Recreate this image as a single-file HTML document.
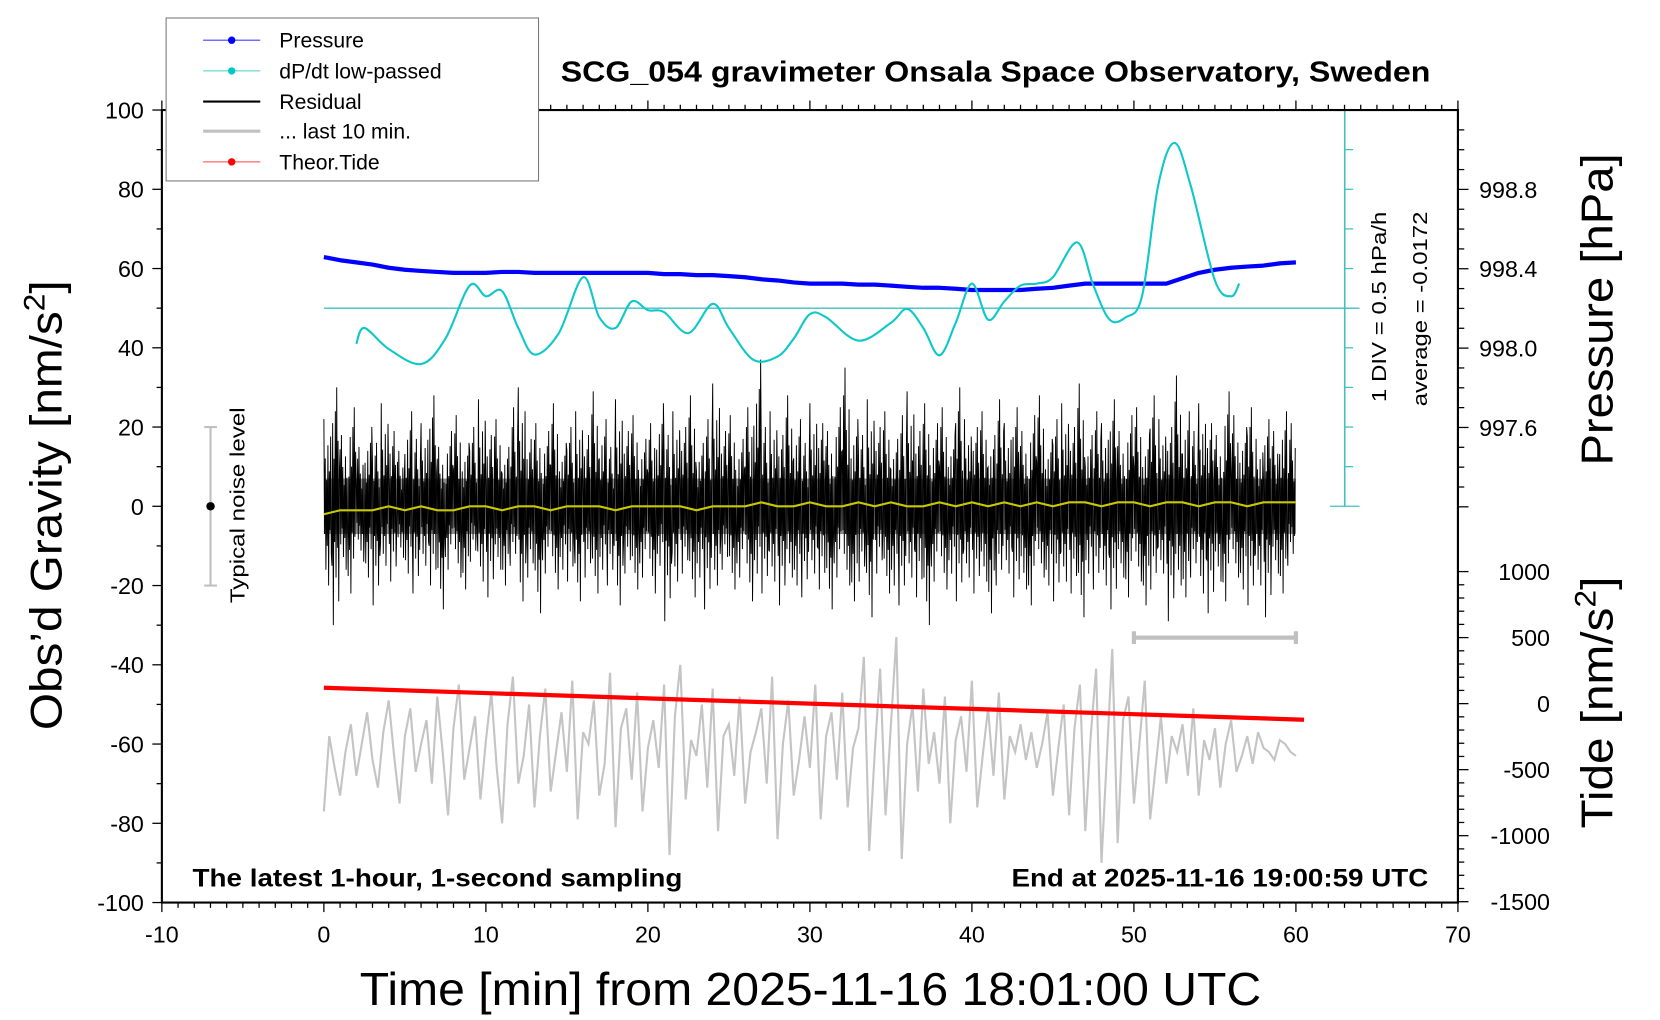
<!DOCTYPE html>
<html><head><meta charset="utf-8">
<style>
html,body{margin:0;padding:0;background:#fff;}
svg{display:block;font-family:"Liberation Sans",sans-serif;}
</style></head>
<body>
<svg id="chart" width="1660" height="1020" viewBox="0 0 1569 964" preserveAspectRatio="none" xmlns="http://www.w3.org/2000/svg">
<rect x="0" y="0" width="1569" height="964" fill="#fff"/>
<g id="series"></g>
<g id="axes"></g>
<text x="530" y="77" font-size="27" font-weight="bold" textLength="822" lengthAdjust="spacingAndGlyphs">SCG_054 gravimeter Onsala Space Observatory, Sweden</text>
<text x="182" y="838" font-size="24" font-weight="bold" textLength="463" lengthAdjust="spacingAndGlyphs">The latest 1-hour, 1-second sampling</text>
<text x="956" y="838" font-size="24" font-weight="bold" textLength="394" lengthAdjust="spacingAndGlyphs">End at 2025-11-16 19:00:59 UTC</text>
<text x="340" y="950" font-size="44" textLength="852" lengthAdjust="spacingAndGlyphs">Time [min] from 2025-11-16 18:01:00 UTC</text>
<text transform="translate(58,690) rotate(-90)" font-size="42" textLength="425" lengthAdjust="spacingAndGlyphs">Obs’d Gravity [nm/s<tspan font-size="28" dy="-16">2</tspan><tspan dy="16">]</tspan></text>
<text transform="translate(1524,440) rotate(-90)" font-size="42" textLength="295" lengthAdjust="spacingAndGlyphs">Pressure [hPa]</text>
<text transform="translate(1524,783) rotate(-90)" font-size="42" textLength="238" lengthAdjust="spacingAndGlyphs">Tide [nm/s<tspan font-size="28" dy="-16">2</tspan><tspan dy="16">]</tspan></text>
<text transform="translate(1310,380) rotate(-90)" font-size="19" textLength="180" lengthAdjust="spacingAndGlyphs">1 DIV = 0.5 hPa/h</text>
<text transform="translate(1349,384) rotate(-90)" font-size="19" textLength="184" lengthAdjust="spacingAndGlyphs">average = -0.0172</text>
<text transform="translate(231,570) rotate(-90)" font-size="19" textLength="185" lengthAdjust="spacingAndGlyphs">Typical noise level</text>
<g>
<rect x="157" y="17" width="352" height="154" fill="#fff" stroke="#777" stroke-width="1"/>
<g><line x1="192" y1="38" x2="246" y2="38" stroke="#4040ff" stroke-width="1"/><circle cx="219" cy="38" r="3.5" fill="#0000ff"/><text x="264" y="45" font-size="20">Pressure</text></g>
<g><line x1="192" y1="67" x2="246" y2="67" stroke="#40d0d0" stroke-width="1"/><circle cx="219" cy="67" r="3.5" fill="#00c8c8"/><text x="264" y="74" font-size="20">dP/dt low-passed</text></g>
<g><line x1="192" y1="96" x2="246" y2="96" stroke="#000" stroke-width="2"/><text x="264" y="103" font-size="20">Residual</text></g>
<g><line x1="192" y1="124" x2="246" y2="124" stroke="#c0c0c0" stroke-width="3"/><text x="264" y="131" font-size="20">... last 10 min.</text></g>
<g><line x1="192" y1="153" x2="246" y2="153" stroke="#ff4040" stroke-width="1"/><circle cx="219" cy="153" r="3.5" fill="#ff0000"/><text x="264" y="160" font-size="20">Theor.Tide</text></g>
</g>
</svg>
<script>
// ---- data ----
const pressureTimes = [0,1,2,3,4,5,6,7,8,9,10,11,12,13,14,15,16,17,18,19,20,21,22,23,24,25,26,27,28,29,30,31,32,33,34,35,36,37,38,39,40,41,42,43,44,45,46,47,48,49,50,51,52,53,54,55,56,57,58,59,60];
const pressureValues = [998.459,998.443,998.432,998.421,998.405,998.395,998.389,998.384,998.379,998.379,998.379,998.384,998.384,998.379,998.379,998.379,998.379,998.379,998.379,998.379,998.379,998.373,998.373,998.368,998.368,998.363,998.357,998.347,998.341,998.331,998.325,998.325,998.325,998.320,998.320,998.315,998.309,998.304,998.304,998.299,998.293,998.293,998.293,998.293,998.299,998.304,998.315,998.325,998.325,998.325,998.325,998.325,998.325,998.352,998.379,998.395,998.405,998.411,998.416,998.427,998.432];
const dpdtTimes = [2,2.5,4,6,7.5,9,10,11,12,13,14.5,16,17,18,19,20,21,22.5,24,25,26.5,28,29,30,31,33,35,36,37,38,39,40,41,42,43,44,45,46.5,47.5,48.5,49.5,50.5,51.5,52.5,53.5,55,56,56.5];
const dpdtValues = [41.0,45.0,39.7,35.9,42.3,55.7,53.0,54.3,45.0,38.3,43.7,57.8,47.7,45.0,51.7,49.5,49.0,43.7,51.1,45.0,37.0,37.8,42.3,48.5,47.7,41.8,46.3,49.8,45.0,38.1,46.3,56.2,47.1,51.7,55.7,56.2,57.8,66.6,55.7,47.1,47.7,53.0,81.0,91.7,81.0,57.0,53.0,56.2];
const dpdtBaseline = 50;
const residualHigh = [22,30,18,25,15,20,16,26,19,14,24,17,21,28,15,19,23,16,20,27,18,22,15,25,30,17,21,19,26,16,20,24,18,29,22,15,27,19,23,17,21,26,18,24,20,28,16,22,31,19,23,17,25,37,20,24,18,28,22,16,26,21,19,25,35,22,18,27,20,24,17,23,29,19,26,21,25,18,30,22,20,24,18,27,21,25,19,23,28,17,22,26,20,31,18,24,21,27,19,23,25,18,28,22,20,33,24,19,26,21,18,29,23,20,25,17,22,19,24,21];
const residualLow = [-20,-30,-16,-22,-14,-18,-25,-15,-19,-13,-17,-22,-15,-20,-26,-16,-18,-21,-14,-19,-23,-16,-20,-15,-24,-18,-27,-17,-21,-16,-19,-24,-18,-22,-16,-20,-25,-17,-21,-18,-22,-15,-29,-19,-17,-23,-18,-26,-20,-16,-21,-18,-24,-17,-22,-19,-25,-18,-20,-23,-17,-21,-26,-18,-20,-24,-19,-28,-17,-22,-20,-25,-18,-23,-30,-19,-21,-17,-24,-18,-22,-19,-27,-20,-17,-23,-21,-25,-18,-20,-24,-19,-22,-28,-17,-21,-20,-26,-18,-23,-19,-25,-21,-17,-29,-20,-23,-18,-22,-27,-19,-24,-18,-21,-25,-20,-28,-17,-22,-15];
const smoothResidual = [-2,-1,-1,-1,0,-1,0,-1,-1,0,0,-1,0,0,-1,0,0,0,-1,0,0,0,0,-1,0,0,0,1,0,0,1,0,0,1,0,1,0,0,1,0,1,0,1,0,1,0,1,1,0,1,1,0,1,1,0,1,1,0,1,1,1];
const last10Values = [-77,-58,-66,-73,-62,-55,-68,-60,-52,-64,-71,-57,-49,-63,-75,-58,-51,-67,-60,-54,-70,-48,-62,-78,-56,-45,-69,-61,-53,-74,-59,-47,-66,-80,-55,-43,-70,-63,-50,-76,-58,-46,-72,-62,-52,-67,-44,-79,-57,-60,-49,-73,-65,-42,-81,-56,-51,-69,-47,-77,-61,-54,-66,-45,-88,-53,-40,-74,-59,-63,-50,-71,-46,-82,-58,-55,-68,-48,-75,-62,-57,-51,-70,-43,-84,-60,-49,-73,-64,-53,-66,-45,-79,-58,-52,-69,-47,-76,-61,-56,-38,-87,-62,-41,-78,-55,-33,-89,-60,-50,-72,-46,-65,-57,-70,-48,-80,-59,-53,-67,-44,-76,-63,-51,-68,-47,-74,-58,-62,-55,-64,-57,-66,-60,-52,-73,-61,-50,-78,-56,-45,-82,-58,-41,-90,-63,-36,-85,-54,-48,-75,-60,-44,-79,-66,-53,-70,-58,-62,-55,-68,-51,-73,-59,-64,-56,-71,-60,-54,-67,-63,-58,-65,-57,-61,-62,-64,-59,-60,-62,-63];
const tideTimes = [0,10,20,30,40,50,60.5];
const tideValues = [120,80,40,0,-40,-80,-122];
const xTicks = [-10,0,10,20,30,40,50,60,70];
const yTicks = [-100,-80,-60,-40,-20,0,20,40,60,80,100];
const pressureTicks = ["997.6","998.0","998.4","998.8"];
const tideTicks = [-1500,-1000,-500,0,500,1000];

// ---- axes functions ----
const L=153,R=1378,T=104,B=853;
const X = t => L + (t+10)*(R-L)/80;
const Y = g => B - (g+100)*(B-T)/200;
const P = p => 254 - (p-998.4)*187.5;
const TD = v => 665 - v*(853-541)/2500;

const NS="http://www.w3.org/2000/svg";
function mk(tag, attrs, parent){const e=document.createElementNS(NS,tag);for(const k in attrs)e.setAttribute(k,attrs[k]);parent.appendChild(e);return e;}
const S=document.getElementById('series'), A=document.getElementById('axes');

// noise level indicator
let nb=mk('line',{x1:199,y1:Y(20),x2:199,y2:Y(-20),stroke:'#c0c0c0','stroke-width':2},S);


for(const g of [20,-20]){let c=mk('line',{x1:193,y1:Y(g),x2:205,y2:Y(g),stroke:'#c0c0c0','stroke-width':2},S);

}
let nd=mk('circle',{cx:199,cy:Y(0),r:4,fill:'#000'},S);



// cyan scale
const scaleX=1271;
let sv=mk('line',{x1:scaleX,y1:Y(100),x2:scaleX,y2:Y(0),stroke:'#40c0c0','stroke-width':1.5},S);


for(let g=0;g<=100;g+=10){const w=(g===0||g===100)?14:0;
let tk=mk('line',{x1:scaleX-w,y1:Y(g),x2:scaleX+(w||8),y2:Y(g),stroke:'#40c0c0','stroke-width':1.2},S);

}
let bl=mk('line',{x1:X(0),y1:Y(dpdtBaseline),x2:scaleX+14,y2:Y(dpdtBaseline),stroke:'#40c0c0','stroke-width':1.3},S);



// last 10 min gray
let gp=[];last10Values.forEach((v,i)=>gp.push(X(i/3).toFixed(1)+','+Y(v).toFixed(1)));
let gl=mk('polyline',{points:gp.join(' '),fill:'none',stroke:'#c4c4c4','stroke-width':2},S);


let gb=mk('path',{d:`M${X(50)},${TD(500)}H${X(60)}M${X(50)},${TD(500)-6}V${TD(500)+6}M${X(60)},${TD(500)-6}V${TD(500)+6}`,stroke:'#c0c0c0','stroke-width':4,fill:'none'},S);



// residual
const frac=[1,-0.35,0.55,-0.8,0.3,-0.5,0.7,-1,0.4,-0.3,0.8,-0.6];
let rp=[];const n=residualHigh.length, bw=60/n;
for(let i=0;i<n;i++){const t=i*bw;
for(let k=0;k<frac.length;k++){const f=frac[(k+i*5)%frac.length];
const v=f>0?residualHigh[i]*f:-residualLow[i]*f;
rp.push(X(t+bw*k/frac.length).toFixed(2)+','+Y(v).toFixed(2));}}
let core=mk('rect',{x:X(0),y:Y(7),width:X(60)-X(0),height:Y(-7)-Y(7),fill:'#000',opacity:0.45},S);


let rl=mk('polyline',{points:rp.join(' '),fill:'none',stroke:'#000','stroke-width':0.9},S);


let yp=smoothResidual.map((v,i)=>X(i)+','+Y(v));
let yl=mk('polyline',{points:yp.join(' '),fill:'none',stroke:'#c8c800','stroke-width':2},S);



// tide
let tp=tideTimes.map((t,i)=>X(t)+','+TD(tideValues[i]));
let tl=mk('polyline',{points:tp.join(' '),fill:'none',stroke:'#ff0000','stroke-width':4},S);



// pressure
let pp=pressureTimes.map((t,i)=>X(t)+','+P(pressureValues[i]));
let pl=mk('polyline',{points:pp.join(' '),fill:'none',stroke:'#0000ff','stroke-width':4,'stroke-linejoin':'round'},S);



// dP/dt smooth (catmull-rom)
const pts=dpdtTimes.map((t,i)=>[X(t),Y(dpdtValues[i])]);
let d='M'+pts[0][0]+','+pts[0][1];
for(let i=0;i<pts.length-1;i++){const p0=pts[Math.max(0,i-1)],p1=pts[i],p2=pts[i+1],p3=pts[Math.min(pts.length-1,i+2)];
d+=` C${p1[0]+(p2[0]-p0[0])/6},${p1[1]+(p2[1]-p0[1])/6} ${p2[0]-(p3[0]-p1[0])/6},${p2[1]-(p3[1]-p1[1])/6} ${p2[0]},${p2[1]}`;}
let cl=mk('path',{d:d,fill:'none',stroke:'#10c8c8','stroke-width':2},S);



// frame
let fr=mk('rect',{x:L,y:T,width:R-L,height:B-T,fill:'none',stroke:'#000','stroke-width':2},A);


for(let t=-10;t<=70;t++){const maj=t%10===0;
mk('line',{x1:X(t),y1:B,x2:X(t),y2:B+(maj?9:5),stroke:'#000','stroke-width':1.2},A);
mk('line',{x1:X(t),y1:T,x2:X(t),y2:T-(maj?9:5),stroke:'#000','stroke-width':1.2},A);}
xTicks.forEach(t=>{let tx=mk('text',{x:X(t),y:B+38,'font-size':22,'text-anchor':'middle'},A);tx.textContent=t;

});
for(let g=-100;g<=100;g+=10){const maj=g%20===0;mk('line',{x1:L,y1:Y(g),x2:L-(maj?9:5),y2:Y(g),stroke:'#000','stroke-width':1.2},A);}
yTicks.forEach(g=>{let tx=mk('text',{x:L-17,y:Y(g)+8,'font-size':22,'text-anchor':'end'},A);tx.textContent=g;

});
for(let k=9972;k<=9991;k++){const p=k/10;const maj=k%4===0;mk('line',{x1:R,y1:P(p),x2:R+(maj?10:6),y2:P(p),stroke:'#000','stroke-width':1.2},A);}
pressureTicks.forEach(s=>{let tx=mk('text',{x:R+20,y:P(parseFloat(s))+8,'font-size':22},A);tx.textContent=s;

});
for(let v=-1500;v<=1000;v+=100){const maj=v%500===0;mk('line',{x1:R,y1:TD(v),x2:R+(maj?10:6),y2:TD(v),stroke:'#000','stroke-width':1.2},A);}
tideTicks.forEach(v=>{let tx=mk('text',{x:R+87,y:TD(v)+8,'font-size':22,'text-anchor':'end'},A);tx.textContent=v;

});
</script>
</body></html>
